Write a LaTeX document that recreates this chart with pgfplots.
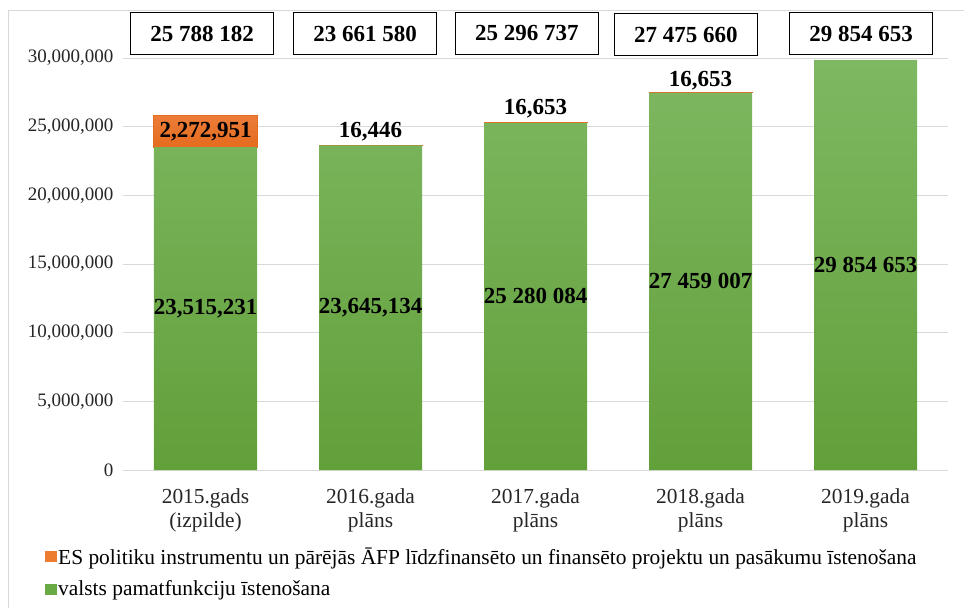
\documentclass[border=0pt]{standalone}
\usepackage{pgfplots}
\pgfplotsset{compat=1.18}
\usepackage{fontspec}
\setmainfont{Liberation Serif}
\definecolor{gtop}{HTML}{7EB862}
\definecolor{gbot}{HTML}{62A03A}
\definecolor{otop}{HTML}{F08A4B}
\definecolor{obot}{HTML}{E56B1F}
\definecolor{gleg}{HTML}{6AAA45}
\definecolor{oleg}{HTML}{ED7D31}
\definecolor{gridc}{HTML}{D9D9D9}
\tikzset{vlab/.style={font=\bfseries\fontsize{23}{26}\selectfont},
  tbox/.style={font=\bfseries\fontsize{23}{26}\selectfont, draw=black, line width=1.2pt, fill=white, minimum width=143pt, minimum height=42pt, inner sep=0pt}}
\begin{document}
\begin{tikzpicture}
\useasboundingbox (0,0) rectangle (964pt,608pt);
\draw[gridc, line width=0.8pt] (8pt,0pt) -- (8pt,598pt) -- (964pt,598pt);
\begin{axis}[
  at={(123pt,138pt)}, anchor=south west,
  scale only axis, width=825pt, height=412pt,
  ybar stacked, bar width=103pt,
  xmin=-0.5, xmax=4.5, ymin=0, ymax=30000000,
  ytick={0,5000000,10000000,15000000,20000000,25000000,30000000},
  scaled y ticks=false,
  yticklabel style={/pgf/number format/fixed, /pgf/number format/1000 sep={,}, font=\fontsize{19}{23}\selectfont, text=black!85, xshift=-6pt},
  /pgf/number format/assume math mode=true,
  xtick={0,1,2,3,4},
  xticklabels={{2015.gads\\(izpilde)},{2016.gada\\plāns},{2017.gada\\plāns},{2018.gada\\plāns},{2019.gada\\plāns}},
  xticklabel style={align=center, font=\fontsize{21.4}{24}\selectfont, text=black!85, yshift=-15pt},
  major tick length=0pt,
  ymajorgrids, grid style={gridc, line width=0.8pt},
  axis x line*=bottom, axis y line*=left,
  x axis line style={gridc, line width=0.8pt},
  y axis line style={draw=none},
  clip=false,
  legend cell align=left,
  legend style={at={(-0.095,-0.183)}, anchor=north west, draw=none, fill=none,
    font=\fontsize{21.4}{25}\selectfont, row sep=11pt, inner sep=0pt},
]
\addlegendimage{legend image code/.code={\fill[oleg] (0pt,-5pt) rectangle (11pt,5pt);}}
\addlegendentry{ES politiku instrumentu un pārējās ĀFP līdzfinansēto un finansēto projektu un pasākumu īstenošana}
\addlegendimage{legend image code/.code={\fill[gleg] (0pt,-5pt) rectangle (11pt,5pt);}}
\addlegendentry{valsts pamatfunkciju īstenošana}
\addplot[forget plot, draw=none, shade, top color=gtop, bottom color=gbot]
  coordinates {(0,23515231) (1,23645134) (2,25280084) (3,27459007) (4,29854653)};
\addplot[forget plot, draw=obot, line width=1pt, shade, top color=otop, bottom color=obot]
  coordinates {(0,2272951) (1,16446) (2,16653) (3,16653)};
\coordinate (g0) at (axis cs:0,11757615);
\coordinate (g1) at (axis cs:1,11822567);
\coordinate (g2) at (axis cs:2,12640042);
\coordinate (g3) at (axis cs:3,13729503);
\coordinate (g4) at (axis cs:4,14927326);
\coordinate (o0) at (axis cs:0,24651706);
\coordinate (o1) at (axis cs:1,23661580);
\coordinate (o2) at (axis cs:2,25296737);
\coordinate (o3) at (axis cs:3,27475660);
\coordinate (b0) at (axis cs:-0.021,31780000);
\coordinate (b1) at (axis cs:0.967,31780000);
\coordinate (b2) at (axis cs:1.948,31800000);
\coordinate (b3) at (axis cs:2.912,31700000);
\coordinate (b4) at (axis cs:3.973,31780000);
\end{axis}
\node[vlab] at (g0) {23,515,231};
\node[vlab] at (g1) {23,645,134};
\node[vlab] at (g2) {25 280 084};
\node[vlab] at (g3) {27 459 007};
\node[vlab] at (g4) {29 854 653};
\node[vlab] at (o0) {2,272,951};
\node[vlab, anchor=south, inner sep=4pt] at (o1) {16,446};
\node[vlab, anchor=south, inner sep=4pt] at (o2) {16,653};
\node[vlab, anchor=south, inner sep=2pt] at (o3) {16,653};
\node[tbox] at (b0) {25 788 182};
\node[tbox] at (b1) {23 661 580};
\node[tbox] at (b2) {25 296 737};
\node[tbox] at (b3) {27 475 660};
\node[tbox] at (b4) {29 854 653};
\end{tikzpicture}
\end{document}
